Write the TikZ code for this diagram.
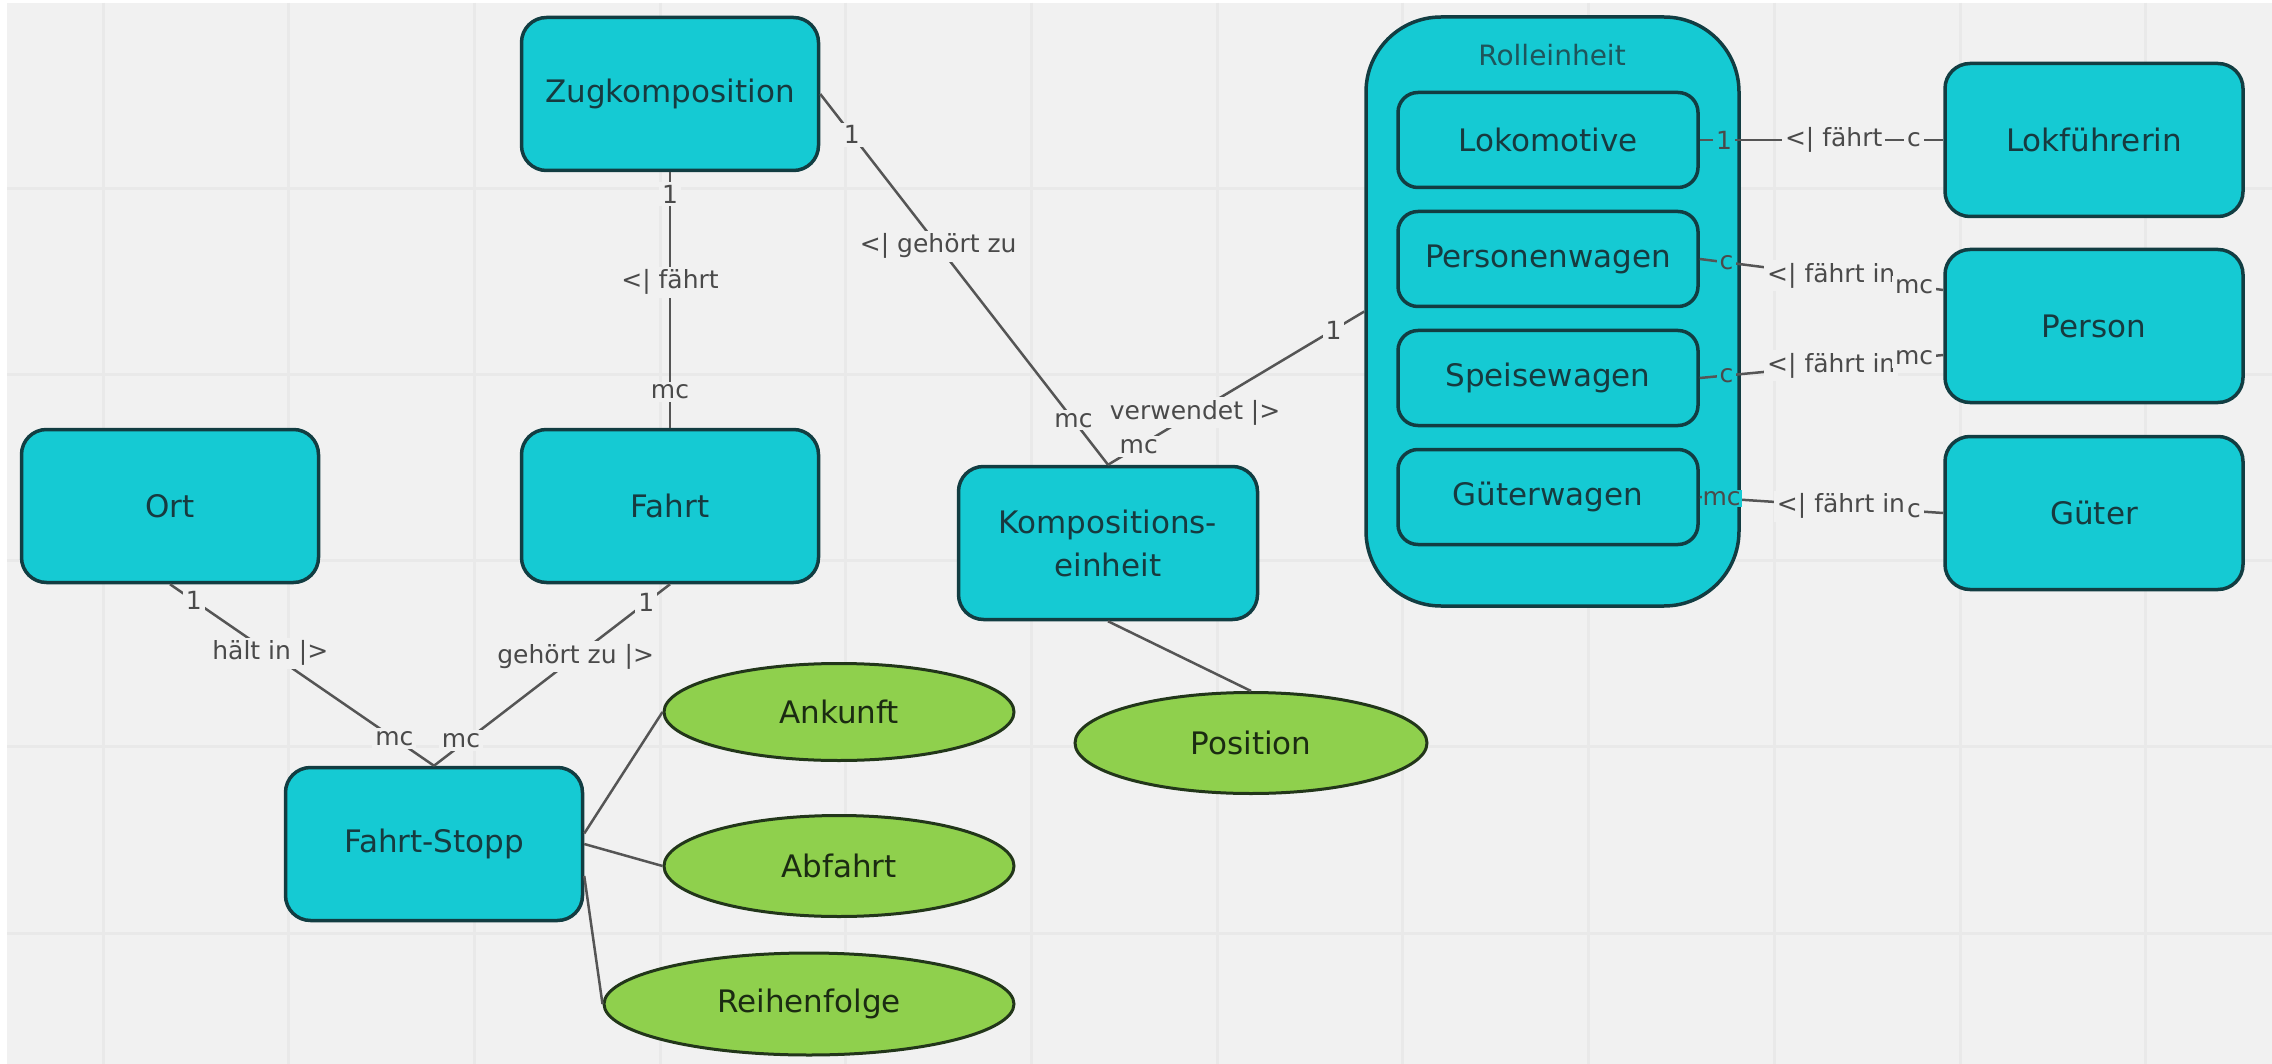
\documentclass[tikz,border=0pt]{standalone}
\usepackage{fontspec}
\setmainfont{DejaVu Sans}
\usetikzlibrary{shapes.geometric,calc}
\definecolor{bgc}{HTML}{F1F1F1}
\definecolor{gridc}{HTML}{E9E9E9}
\definecolor{cyanf}{HTML}{15CAD3}
\definecolor{cyanb}{HTML}{123D42}
\definecolor{greenf}{HTML}{8FD04D}
\definecolor{greenb}{HTML}{22361A}
\definecolor{txtc}{HTML}{173A3F}
\definecolor{titlec}{HTML}{1E555B}
\definecolor{gtxt}{HTML}{1B2B12}
\definecolor{lblc}{HTML}{4A4A4A}
\definecolor{linec}{HTML}{555555}
\tikzset{
  ent/.style={draw=cyanb, fill=cyanf, line width=3.5pt, rounded corners=25pt,
    minimum width=297pt, minimum height=153pt, text=txtc,
    font=\fontsize{31}{43}\selectfont, align=center, inner sep=0pt},
  part/.style={ent, rounded corners=20pt, minimum width=300pt, minimum height=95pt},
  frame/.style={draw=cyanb, fill=cyanf, line width=3.5pt, rounded corners=75pt,
    minimum width=373pt, minimum height=589pt, inner sep=0pt},
  attr/.style={ellipse, draw=greenb, fill=greenf, line width=3pt, text=gtxt,
    font=\fontsize{31}{40}\selectfont, inner sep=0pt},
  conn/.style={draw=linec, line width=2.5pt},
  lbl/.style={fill=bgc, text=lblc, font=\fontsize{25}{30}\selectfont, inner sep=3pt},
  lblc/.style={lbl, fill=cyanf},
  gridline/.style={draw=gridc, line width=3pt}
}
\begin{document}
\begin{tikzpicture}[x=1pt,y=-1pt]
\useasboundingbox (0,0) rectangle (2272,1064);
\fill[white] (0,0) rectangle (2272,1064);
\fill[bgc] (7,3) rectangle (2272,1064);
\foreach \i in {0,...,11} \draw[gridline] ({103+185.7*\i},3) -- ({103+185.7*\i},1064);
\foreach \j in {1,...,5} \draw[gridline] (7,{2+186.2*\j}) -- (2272,{2+186.2*\j});

% entities
\node[ent] (zug) at (670,94) {Zugkomposition};
\node[ent] (fahrt) at (670,506) {Fahrt};
\node[ent] (ort) at (170,506) {Ort};
\node[ent] (fs) at (434,844) {Fahrt-Stopp};
\node[ent, minimum width=299pt] (ke) at (1108,543) {Kompositions-\\einheit};
\node[frame] (roll) at (1552.5,311.5) {};
\node[text=titlec, font=\fontsize{28}{34}\selectfont] (rolltitle) at (1552,55) {Rolleinheit};
\node[part] (lok) at (1548,140) {Lokomotive};
\node[part] (pw) at (1548,259) {Personenwagen};
\node[part] (sw) at (1548,378) {Speisewagen};
\node[part] (gw) at (1548,497) {Güterwagen};
\node[ent, minimum width=298pt] (lf) at (2094,140) {Lokführerin};
\node[ent, minimum width=298pt] (per) at (2094,326) {Person};
\node[ent, minimum width=298pt] (gut) at (2094,513) {Güter};

% attributes
\node[attr, minimum width=350pt, minimum height=97pt] (ank) at (839,712) {Ankunft};
\node[attr, minimum width=350pt, minimum height=101pt] (abf) at (839,866) {Abfahrt};
\node[attr, minimum width=410pt, minimum height=102pt] (rf) at (809,1004) {Reihenfolge};
\node[attr, minimum width=352pt, minimum height=101pt] (pos) at (1251,743) {Position};

% relationships
\draw[conn] (zug) -- (fahrt)
  node[lbl,pos=0.085] (zf1) {1}
  node[lbl,pos=0.43] (zf2) {<| fährt}
  node[lbl,pos=0.86] (zf3) {mc};
\draw[conn] (zug.east) -- (ke.north)
  node[lbl,pos=0.11] (zk1) {1}
  node[lbl,pos=0.41] (zk2) {<| gehört zu}
  node[lbl,pos=0.88] (zk3) {mc};
\draw[conn] (ke.north) -- (roll.west)
  node[lbl,pos=0.12] (kr1) {mc}
  node[lbl,pos=0.34] (kr2) {verwendet |>}
  node[lbl,pos=0.88] (kr3) {1};
\draw[conn] (ort.south) -- (fs.north)
  node[lbl,pos=0.09] (of1) {1}
  node[lbl,pos=0.38] (of2) {hält in |>}
  node[lbl,pos=0.85] (of3) {mc};
\draw[conn] (fahrt.south) -- (fs.north)
  node[lbl,pos=0.1] (ff1) {1}
  node[lbl,pos=0.4] (ff2) {gehört zu |>}
  node[lbl,pos=0.86,xshift=-6pt] (ff3) {mc};
\draw[conn] (fs.4) -- (ank.west);
\draw[conn] (fs.0) -- (abf.west);
\draw[conn] (fs.-12) -- (rf.west);
\draw[conn] (ke.south) -- (pos.north);

\draw[conn] (lok.east) -- (lf.west)
  node[lblc,pos=0.1] (ll1) {1}
  node[lbl,pos=0.55] (ll2) {<| fährt}
  node[lbl,pos=0.88] (ll3) {c};
\draw[conn] (pw.east) -- ([yshift=36pt]per.west)
  node[lblc,pos=0.11] (pp1) {c}
  node[lbl,pos=0.54] (pp2) {<| fährt in}
  node[lbl,pos=0.88] (pp3) {mc};
\draw[conn] (sw.east) -- ([yshift=-29pt]per.west)
  node[lblc,pos=0.11] (sp1) {c}
  node[lbl,pos=0.54] (sp2) {<| fährt in}
  node[lbl,pos=0.88] (sp3) {mc};
\draw[conn] (gw.east) -- (gut.west)
  node[lblc,pos=0.09,inner sep=1pt] (gg1) {mc}
  node[lbl,pos=0.58] (gg2) {<| fährt in}
  node[lbl,pos=0.88] (gg3) {c};
\end{tikzpicture}
\end{document}
